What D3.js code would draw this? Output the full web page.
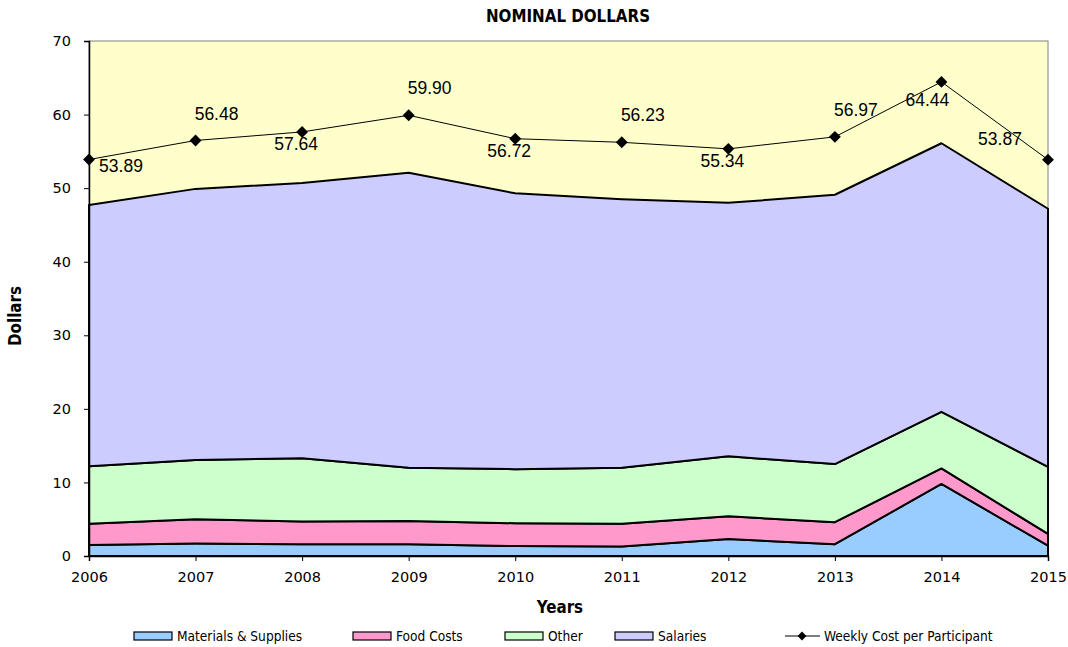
<!DOCTYPE html>
<html>
<head>
<meta charset="utf-8">
<script src="https://cdn.jsdelivr.net/npm/d3@7"></script>
<style>
  body { margin: 0; background: #fff; }
  svg text { fill: #000; }
</style>
</head>
<body>
<svg id="chart" width="1068" height="647"></svg>
<script>
const years = ['2006', '2007', '2008', '2009', '2010', '2011', '2012', '2013', '2014', '2015'];
const materials = [1.5, 1.7, 1.6, 1.6, 1.35, 1.3, 2.3, 1.6, 9.8, 1.4];
const foodCosts = [2.9, 3.3, 3.1, 3.15, 3.1, 3.1, 3.1, 3.0, 2.1, 1.6];
const other = [7.8, 8.05, 8.6, 7.25, 7.35, 7.6, 8.15, 7.9, 7.7, 9.1];
const salaries = [35.5, 36.85, 37.4, 40.1, 37.5, 36.5, 34.45, 36.6, 36.5, 35.1];
const weeklyCost = [53.89, 56.48, 57.64, 59.90, 56.72, 56.23, 55.34, 56.97, 64.44, 53.87];
const yTicks = [0, 10, 20, 30, 40, 50, 60, 70];

const seriesNames = ['Materials & Supplies', 'Food Costs', 'Other', 'Salaries'];
const seriesColors = ['#99CCFF', '#FF99CC', '#CCFFCC', '#CCCCFF'];

const svg = d3.select('#chart');
const margin = { top: 41, right: 20, bottom: 91, left: 89 };
const width = 1048 - margin.left;
const height = 556 - margin.top;
const font = "'DejaVu Sans Condensed', 'DejaVu Sans', sans-serif";
const tickFont = "'DejaVu Sans', sans-serif";

const rows = years.map((y, i) => ({
  year: y,
  'Materials & Supplies': materials[i],
  'Food Costs': foodCosts[i],
  'Other': other[i],
  'Salaries': salaries[i]
}));

const x = d3.scalePoint().domain(years).range([0, width]);
const y = d3.scaleLinear().domain([0, 70]).range([height, 0]);

const g = svg.append('g').attr('transform', `translate(${margin.left},${margin.top})`);

// plot background
g.append('rect')
  .attr('width', width).attr('height', height)
  .attr('fill', '#FFFFCC')
  .attr('stroke', '#808080').attr('stroke-width', 1);

const stacked = d3.stack().keys(seriesNames)(rows);

const area = d3.area()
  .x(d => x(d.data.year))
  .y0(d => y(d[0]))
  .y1(d => y(d[1]));

g.selectAll('.layer')
  .data(stacked)
  .enter()
  .append('path')
  .attr('class', 'layer')
  .attr('d', area)
  .attr('fill', (d, i) => seriesColors[i])
  .attr('stroke', '#000')
  .attr('stroke-width', 2)
  .attr('stroke-linejoin', 'round');

// axes
const yAxis = g.append('g')
  .call(d3.axisLeft(y).tickValues(yTicks).tickSize(5).tickPadding(13));
yAxis.select('.domain').attr('stroke', '#000').attr('stroke-width', 1.5);
yAxis.selectAll('text').attr('font-family', tickFont).attr('font-size', 14.5);

const xAxis = g.append('g')
  .attr('transform', `translate(0,${height})`)
  .call(d3.axisBottom(x).tickSize(5).tickPadding(11));
xAxis.select('.domain').attr('stroke', '#000').attr('stroke-width', 1.5);
xAxis.selectAll('text').attr('font-family', tickFont).attr('font-size', 14.5);

// weekly cost line
const line = d3.line()
  .x((d, i) => x(years[i]))
  .y(d => y(d));

g.append('path')
  .datum(weeklyCost)
  .attr('fill', 'none')
  .attr('stroke', '#000')
  .attr('stroke-width', 1)
  .attr('d', line);

const diamond = d3.symbol().type(d3.symbolDiamond2).size(90);
g.selectAll('.marker')
  .data(weeklyCost)
  .enter()
  .append('path')
  .attr('class', 'marker')
  .attr('transform', (d, i) => `translate(${x(years[i])},${y(d)})`)
  .attr('d', diamond)
  .attr('fill', '#000');

// data labels, alternating below / above
g.selectAll('.dlabel')
  .data(weeklyCost)
  .enter()
  .append('text')
  .attr('class', 'dlabel')
  .attr('x', (d, i) => {
    const px = x(years[i]);
    if (i === 0) return px + 32;
    if (i === years.length - 1) return px - 48;
    if (i === 8) return px - 14;
    return px + (i % 2 === 1 ? 21 : -6);
  })
  .attr('y', (d, i) => {
    const py = y(d);
    if (i === 0) return py + 6;
    if (i === years.length - 1) return py - 21;
    if (i === 8) return py + 18;
    return i % 2 === 1 ? py - 27 : py + 12;
  })
  .attr('dy', '0.35em')
  .attr('text-anchor', 'middle')
  .attr('font-family', "'Liberation Sans', Arial, sans-serif")
  .attr('font-size', 17.5)
  .text(d => d.toFixed(2));

// titles
svg.append('text')
  .attr('x', 568).attr('y', 22)
  .attr('text-anchor', 'middle')
  .attr('font-family', font).attr('font-size', 16.8).attr('font-weight', 'bold')
  .text('NOMINAL DOLLARS');

svg.append('text')
  .attr('x', 560).attr('y', 613)
  .attr('text-anchor', 'middle')
  .attr('font-family', font).attr('font-size', 16.8).attr('font-weight', 'bold')
  .text('Years');

svg.append('text')
  .attr('transform', 'translate(21,316) rotate(-90)')
  .attr('text-anchor', 'middle')
  .attr('font-family', font).attr('font-size', 16.8).attr('font-weight', 'bold')
  .text('Dollars');

// legend
const legendX = [134, 353, 505, 615];
const legend = svg.append('g').attr('transform', 'translate(0,636)');
seriesNames.forEach((name, i) => {
  legend.append('rect')
    .attr('x', legendX[i]).attr('y', -4)
    .attr('width', 38).attr('height', 8)
    .attr('fill', seriesColors[i])
    .attr('stroke', '#000').attr('stroke-width', 1.2);
  legend.append('text')
    .attr('x', legendX[i] + 43).attr('y', 0)
    .attr('dy', '0.35em')
    .attr('font-family', font).attr('font-size', 13.6)
    .text(name);
});
legend.append('line')
  .attr('x1', 785).attr('x2', 820)
  .attr('stroke', '#000').attr('stroke-width', 1);
legend.append('path')
  .attr('transform', 'translate(802,0)')
  .attr('d', d3.symbol().type(d3.symbolDiamond2).size(50))
  .attr('fill', '#000');
legend.append('text')
  .attr('x', 824).attr('y', 0)
  .attr('dy', '0.35em')
  .attr('font-family', font).attr('font-size', 13.6)
  .text('Weekly Cost per Participant');
</script>
</body>
</html>
